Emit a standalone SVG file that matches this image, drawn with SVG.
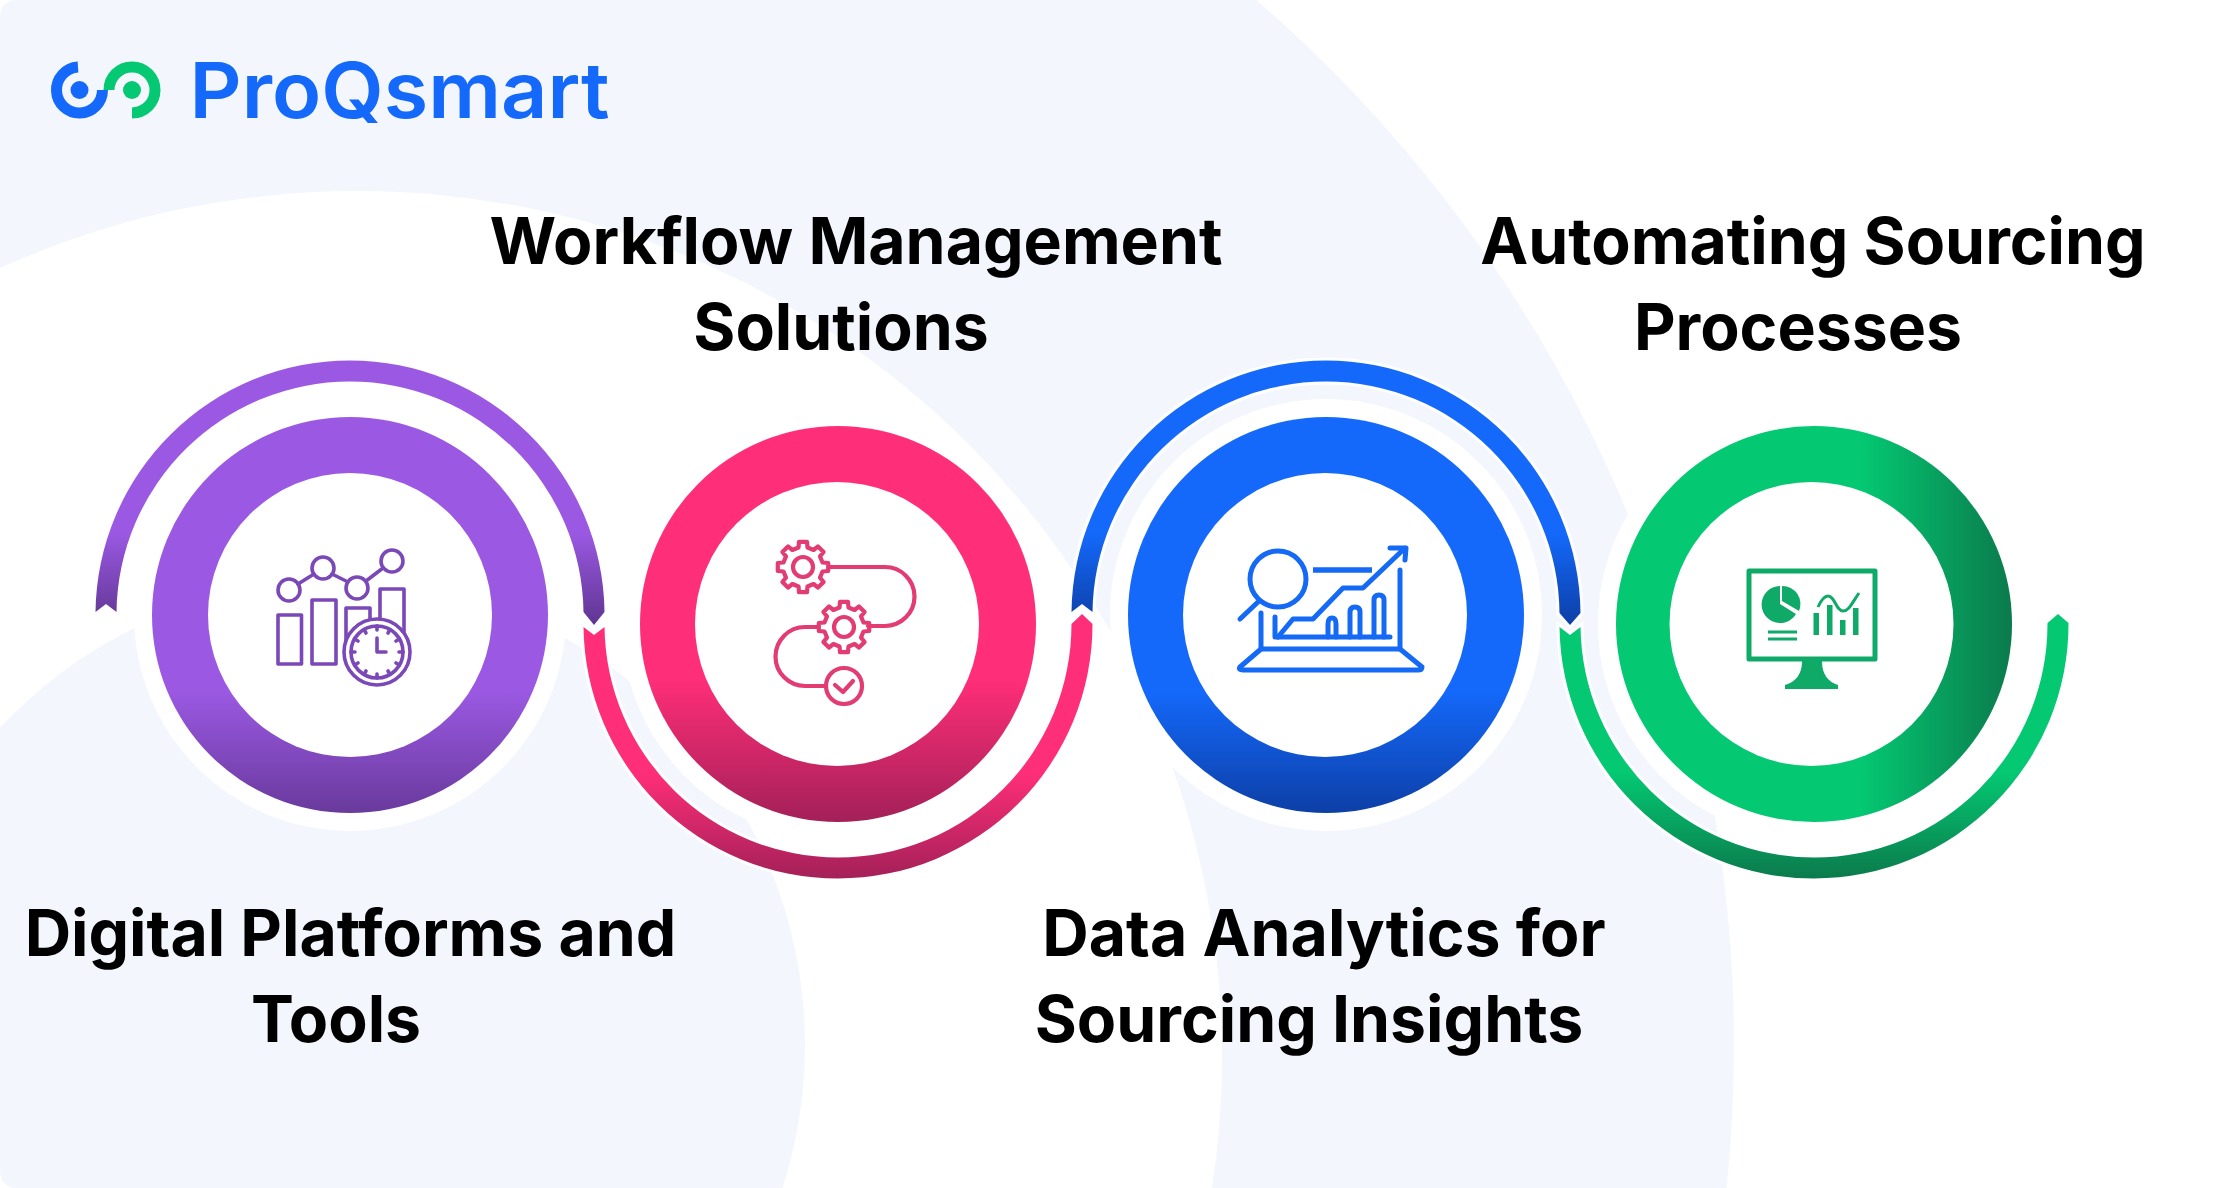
<svg xmlns="http://www.w3.org/2000/svg" width="2215" height="1188" viewBox="0 0 2215 1188">
<defs>
<style>
.title{font-family:Inter,"Liberation Sans",sans-serif;font-weight:700;font-size:64.3px;fill:#000;text-anchor:middle}
.halo{fill:#fff}
.arc{stroke:#fff;stroke-width:6;paint-order:stroke;stroke-linejoin:miter}
.hole{fill:#fff}
.ip{fill:none;stroke:#7B48B8;stroke-width:3.6;stroke-linecap:round;stroke-linejoin:round}
.ik{fill:none;stroke:#E23C72;stroke-width:4.2;stroke-linecap:round;stroke-linejoin:round}
.ib{fill:none;stroke:#1469F5;stroke-width:5;stroke-linecap:round;stroke-linejoin:round}
.ig{fill:#0FA968;stroke:none}
</style>
<clipPath id="page"><rect x="0" y="0" width="2215" height="1188" rx="16"/></clipPath>
<linearGradient id="gPurple" x1="0" y1="417" x2="0" y2="813" gradientUnits="userSpaceOnUse"><stop offset="0" stop-color="#9B59E3"/><stop offset="0.69" stop-color="#9B59E3"/><stop offset="1" stop-color="#693A9C"/></linearGradient>
<linearGradient id="gPink" x1="0" y1="426" x2="0" y2="822" gradientUnits="userSpaceOnUse"><stop offset="0" stop-color="#FF2E78"/><stop offset="0.64" stop-color="#FF2E78"/><stop offset="1" stop-color="#A32058"/></linearGradient>
<linearGradient id="gBlue" x1="0" y1="417" x2="0" y2="813" gradientUnits="userSpaceOnUse"><stop offset="0" stop-color="#1469FB"/><stop offset="0.69" stop-color="#1469FB"/><stop offset="1" stop-color="#0D3FA6"/></linearGradient>
<linearGradient id="gGreen" x1="1616" y1="0" x2="2012" y2="0" gradientUnits="userSpaceOnUse"><stop offset="0" stop-color="#04C872"/><stop offset="0.62" stop-color="#04C872"/><stop offset="1" stop-color="#0B7A4C"/></linearGradient>
<linearGradient id="aPurple" x1="0" y1="360" x2="0" y2="625" gradientUnits="userSpaceOnUse"><stop offset="0" stop-color="#9B59E3"/><stop offset="0.65" stop-color="#9B59E3"/><stop offset="1" stop-color="#5F3591"/></linearGradient>
<linearGradient id="aBlue" x1="0" y1="360" x2="0" y2="625" gradientUnits="userSpaceOnUse"><stop offset="0" stop-color="#1469FB"/><stop offset="0.65" stop-color="#1469FB"/><stop offset="1" stop-color="#0D3FA6"/></linearGradient>
<linearGradient id="aPink" x1="0" y1="614" x2="0" y2="879" gradientUnits="userSpaceOnUse"><stop offset="0" stop-color="#FF2E78"/><stop offset="0.6" stop-color="#FF2E78"/><stop offset="1" stop-color="#A32058"/></linearGradient>
<linearGradient id="aGreen" x1="0" y1="614" x2="0" y2="879" gradientUnits="userSpaceOnUse"><stop offset="0" stop-color="#04C872"/><stop offset="0.6" stop-color="#04C872"/><stop offset="1" stop-color="#0B7A4C"/></linearGradient>
<path id="gear" d="M19.5-4.5 25.2-4 25.2 4 19.5 4.5 17 10.6 20.6 15 15 20.6 10.6 17 4.5 19.5 4 25.2-4 25.2-4.5 19.5-10.6 17-15 20.6-20.6 15-17 10.6-19.5 4.5-25.2 4-25.2-4-19.5-4.5-17-10.6-20.6-15-15-20.6-10.6-17-4.5-19.5-4-25.2 4-25.2 4.5-19.5 10.6-17 15-20.6 20.6-15 17-10.6Z"/>
</defs>
<g id="background" clip-path="url(#page)">
<rect width="2215" height="1188" fill="#fff"/>
<circle cx="352" cy="1045" r="1382" fill="#F3F6FC"/>
<circle cx="357" cy="1056" r="865" fill="#fff"/>
<circle cx="340" cy="1045" r="465" fill="#F3F6FC"/>
<circle class="halo" cx="350" cy="615" r="216"/>
<circle class="halo" cx="838" cy="624" r="216"/>
<circle class="halo" cx="1326" cy="615" r="216"/>
<circle class="halo" cx="1814" cy="624" r="216"/>
</g>
<g id="logo">
<path d="M78 67A23 23 0 1 0 102.500 90" fill="none" stroke="#1469FB" stroke-width="11"/>
<circle cx="79.500" cy="90" r="9" fill="#1469FB"/>
<path d="M109 90A23 23 0 1 1 132 113" fill="none" stroke="#04C872" stroke-width="11"/>
<circle cx="132" cy="90" r="9" fill="#04C872"/>
<text x="189.500" y="118" font-family="Inter,'Liberation Sans',sans-serif" font-weight="600" font-size="77" fill="#1469FB" textLength="420" lengthAdjust="spacingAndGlyphs">ProQsmart</text>
</g>
<g id="connectors">
<path class="arc" fill="url(#aPurple)" d="M95.500 612A254.500 254.500 0 0 1 350 360.500A254.500 254.500 0 0 1 604.500 612L594 625 583.500 612A233.500 233.500 0 0 0 350 381.500A233.500 233.500 0 0 0 116.500 612L106 604Z"/>
<path class="arc" fill="url(#aPink)" d="M583.500 627 594 635 604.500 627A233.500 233.500 0 0 0 838 857.500A233.500 233.500 0 0 0 1071.500 624L1082 614 1092.500 624A254.500 254.500 0 0 1 838 878.500A254.500 254.500 0 0 1 583.500 627Z"/>
<path class="arc" fill="url(#aBlue)" d="M1071.500 612 1082 604 1092.500 612A233.500 233.500 0 0 1 1326 381.500A233.500 233.500 0 0 1 1559.500 613L1570 625 1580.500 613A254.500 254.500 0 0 0 1326 360.500A254.500 254.500 0 0 0 1071.500 612Z"/>
<path class="arc" fill="url(#aGreen)" d="M1559.500 627 1570 635 1580.500 627A233.500 233.500 0 0 0 1814 857.500A233.500 233.500 0 0 0 2047.500 623L2058 614 2068.500 623A254.500 254.500 0 0 1 1814 878.500A254.500 254.500 0 0 1 1559.500 627Z"/>
</g>
<g id="node-digital-platforms">
<circle cx="350" cy="615" r="198" fill="url(#gPurple)"/><circle class="hole" cx="350" cy="615" r="142"/>
<g class="ip">
<rect x="278" y="615" width="23.500" height="49"/><rect x="312" y="600" width="24" height="64"/><rect x="346" y="608" width="24" height="40"/><rect x="380" y="589" width="24" height="45"/>
<circle cx="289" cy="590" r="11"/><circle cx="323" cy="568" r="11"/><circle cx="357" cy="588" r="11"/><circle cx="392" cy="561" r="11"/>
<path d="M298 584 314 574M332 574 348 582M366 581 383 568"/>
<circle cx="377" cy="652" r="33" fill="#fff"/><circle cx="377" cy="652" r="26" fill="#fff"/>
<path d="M377 638V652H386M377 626v4M377 674v4M351 652h4M399 652h4M364 629.500l2 3.500M388 671l2 3.500M354.500 639l3.500 2M396 663l3.500 2M354.500 665l3.500-2M396 641l3.500-2M364 674.500l2-3.500M388 633l2-3.500"/>
</g>
<text class="title" x="350.500" y="956">Digital Platforms and</text>
<text class="title" x="336" y="1042">Tools</text>
</g>
<g id="node-workflow-management">
<circle cx="838" cy="624" r="198" fill="url(#gPink)"/><circle class="hole" cx="837" cy="624" r="142"/>
<g class="ik">
<path d="M830 567H885A29.500 29.500 0 0 1 885 626H868M818 627H805A29.500 29.500 0 0 0 805 686H825"/>
<use href="#gear" x="803" y="567"/><circle cx="803" cy="567" r="10"/>
<use href="#gear" x="844" y="627"/><circle cx="844" cy="627" r="10"/>
<circle cx="844" cy="686" r="18"/><path d="M835 685 843 692 853 681"/>
</g>
<text class="title" x="856" y="264">Workflow Management</text>
<text class="title" x="841" y="350">Solutions</text>
</g>
<g id="node-data-analytics">
<circle cx="1326" cy="615" r="198" fill="url(#gBlue)"/><circle class="hole" cx="1325" cy="615" r="142"/>
<g class="ib">
<circle cx="1278" cy="579" r="28"/><path d="M1258 602 1240 619"/>
<path d="M1313 570H1372" stroke-width="5.500" stroke-linecap="butt"/>
<path d="M1278 637 1293 619H1313L1343 588H1363L1405 548M1390 548H1406L1405 560"/>
<path d="M1261 613V649M1400 570V649M1275 617V637H1390"/>
<path d="M1328 637V624Q1328 618 1332 618Q1336 618 1336 624V637M1350 637V612Q1350 607 1355 607Q1360 607 1360 612V637M1374 637V600Q1374 595 1379 595Q1384 595 1384 600V637"/>
<path d="M1261 649H1400L1422 667Q1422 670 1418 670H1243Q1238 670 1240 667Z"/>
</g>
<text class="title" x="1324" y="956">Data Analytics for</text>
<text class="title" x="1309" y="1042">Sourcing Insights</text>
</g>
<g id="node-automating-sourcing">
<circle cx="1814" cy="624" r="198" fill="url(#gGreen)"/><circle class="hole" cx="1811.500" cy="624" r="142"/>
<rect x="1749" y="571" width="126" height="88" fill="none" stroke="#0FA968" stroke-width="5" stroke-linejoin="round"/>
<g class="ig">
<path d="M1780 586A18.500 18.500 0 1 0 1796 614L1780 604Z"/>
<path d="M1782 586A18 18 0 0 1 1799 611L1782 601Z"/>
<rect x="1768" y="630.500" width="29" height="3"/><rect x="1768" y="637.500" width="29" height="3"/>
<rect x="1813.500" y="613" width="5.500" height="22"/><rect x="1827" y="605" width="5.500" height="30"/><rect x="1840" y="620" width="5.500" height="15"/><rect x="1853" y="608" width="5.500" height="27"/>
<path d="M1802 661H1822Q1822 680 1838 685V689H1785V685Q1802 680 1802 661Z"/>
<path d="M1818 607Q1823 596 1828 596C1835 596 1836 611 1843 611C1849 611 1852 603 1859 593" fill="none" stroke="#0FA968" stroke-width="3"/>
</g>
<text class="title" x="1813" y="264">Automating Sourcing</text>
<text class="title" x="1798" y="350">Processes</text>
</g>
</svg>
